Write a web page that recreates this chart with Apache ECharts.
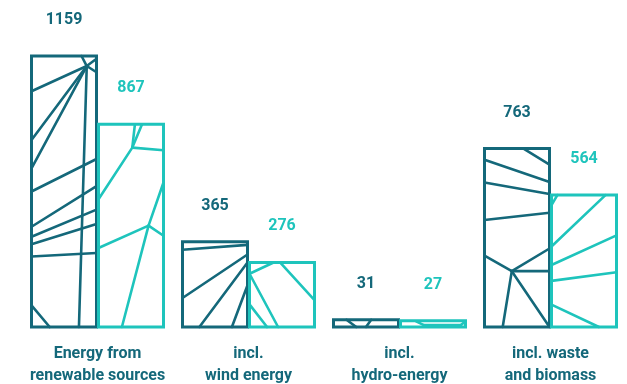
<!DOCTYPE html>
<html>
<head>
<meta charset="utf-8">
<script src="https://cdn.jsdelivr.net/npm/echarts@6/dist/echarts.min.js"></script>
<style>
  html, body { margin: 0; padding: 0; background: #ffffff; }
  #chart { width: 627px; height: 384px; }
</style>
</head>
<body>
<div id="chart"></div>
<script>
// Categories and values
const categories = [
  'Energy from\nrenewable sources',
  'incl.\nwind energy',
  'incl.\nhydro-energy',
  'incl. waste\nand biomass'
];
const valuesA = [1159, 365, 31, 763];
const valuesB = [867, 276, 27, 564];

const DARK = '#14687a';
const LIGHT = '#1ec4bc';

// Decorative facet lines inside each bar, as fractions of the bar box
// [x0, y0, x1, y1] with x from the left edge and y from the top edge.
const facetsA = [
  [[0.85,0.037,0,0.13],[0.85,0.037,0,0.31],[0.85,0.037,0,0.415],[0.85,0.037,0.73,1],
   [0.77,0,0.85,0.037],[0.85,0.037,1,0.01],[0.85,0.037,1,0.06],
   [0,0.5,1,0.38],[0,0.63,1,0.48],[0,0.667,1,0.567],[0,0.695,1,0.62],[0,0.74,1,0.727],
   [0,0.92,0.28,1]],
  [[0,0.094,1,0.038],[0,0.66,1,0.15],[0.26,1,1,0.245],[0.76,1,1,0.51]],
  [[0.2,0,0.35,1],[0.5,1,0.58,0]],
  [[0.6,0,1,0.09],[0,0.062,1,0.187],[0,0.19,1,0.254],[0,0.4,1,0.36],
   [0,0.6,0.42,0.687],[0.42,0.687,1,0.56],[0.42,0.687,1,0.687],[0.42,0.687,0.28,1],[0.42,0.687,1,1]]
];
const facetsB = [
  [[0.56,0,0.52,0.115],[0.67,0,0.52,0.115],[0.52,0.115,1,0.128],[0.52,0.115,0,0.37],
   [1,0.287,0.77,0.5],[0.77,0.5,0,0.61],[0.77,0.5,1,0.55],[0.77,0.5,0.36,1]],
  [[0,0.175,0.37,0],[0.47,0,1,0.585],[0,0.175,0.44,1],[0,0.65,0.27,1]],
  [[0.24,0.1,0.36,0.7],[0.36,0.7,0.93,0.7],[0.93,0.7,1,0.1]],
  [[0,0.076,0.09,0],[0,0.39,0.83,0],[0,0.53,1,0.305],[0,0.65,1,0.585],[0,0.83,0.73,1]]
];

function makeRender(side, color, facets) {
  return function (params, api) {
    const idx = api.value(0);
    const val = api.value(1);
    const top = api.coord([idx, val]);
    const base = api.coord([idx, 0]);
    const cx = top[0];
    const w = 65;
    const x = side < 0 ? cx - 1 - w : cx + 1;
    const y = top[1];
    const h = base[1] - top[1];
    const children = [];
    (facets[params.dataIndex] || []).forEach(function (f) {
      children.push({
        type: 'line',
        shape: { x1: x + f[0] * w, y1: y + f[1] * h, x2: x + f[2] * w, y2: y + f[3] * h },
        style: { stroke: color, lineWidth: 2.6, lineCap: 'round' }
      });
    });
    children.push({
      type: 'rect',
      shape: { x: x, y: y, width: w, height: h },
      style: { fill: 'none', stroke: color, lineWidth: 3 }
    });
    children.push({
      type: 'text',
      style: {
        x: x + w / 2, y: y - 36,
        text: String(val),
        fill: color,
        font: 'bold 16px Roboto, "Noto Sans", sans-serif',
        align: 'center', verticalAlign: 'middle'
      }
    });
    return { type: 'group', children: children };
  };
}

const chart = echarts.init(document.getElementById('chart'), null, { renderer: 'canvas' });
chart.setOption({
  animation: false,
  grid: { left: 22, right: 1, top: 56, bottom: 57, outerBoundsMode: 'none', containLabel: false },
  xAxis: {
    type: 'category',
    data: categories,
    axisLine: { show: false },
    axisTick: { show: false },
    axisLabel: {
      margin: 16,
      color: DARK,
      fontFamily: 'Roboto, "Noto Sans", sans-serif',
      fontWeight: 'bold',
      fontSize: 16,
      lineHeight: 22,
      interval: 0
    }
  },
  yAxis: {
    type: 'value', min: 0, max: 1159, show: false, splitLine: { show: false }
  },
  series: [
    {
      type: 'custom',
      renderItem: makeRender(-1, DARK, facetsA),
      data: valuesA.map(function (v, i) { return [i, v]; }),
      encode: { x: 0, y: 1 },
      clip: false
    },
    {
      type: 'custom',
      renderItem: makeRender(1, LIGHT, facetsB),
      data: valuesB.map(function (v, i) { return [i, v]; }),
      encode: { x: 0, y: 1 },
      clip: false
    }
  ]
});
</script>
</body>
</html>
